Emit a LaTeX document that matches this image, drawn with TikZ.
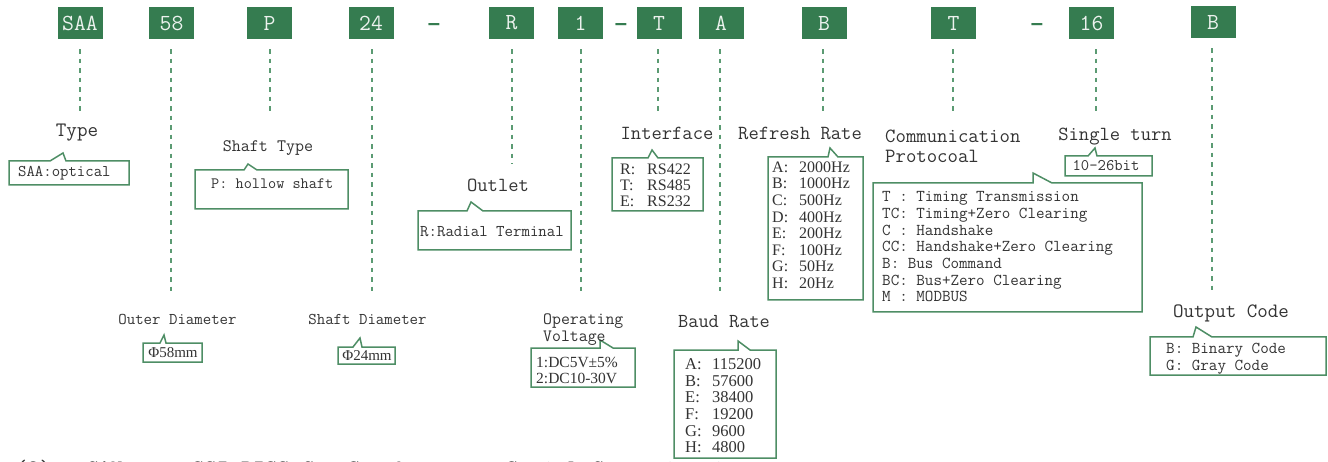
\documentclass[tikz,border=0pt]{standalone}
\usepackage{fontspec}
\setmainfont{Liberation Serif}
\newcommand{\lmono}{\ttfamily}
\newfontfamily\lser{Liberation Serif}
\newfontfamily\lsans{Liberation Sans}
\definecolor{codegreen}{HTML}{357C50}
\definecolor{boxtext}{HTML}{ECF2EE}
\definecolor{leadgreen}{HTML}{5B9B73}
\definecolor{cbgreen}{HTML}{4E8E65}
\definecolor{lbltext}{HTML}{333333}
\newcommand{\callbox}[8]{\draw[cb] (#1,#2) -- (#5,#2) -- (#6,#7) -- (#8,#2) -- (#3,#2) -- (#3,#4) -- (#1,#4) -- cycle;}
\newcommand{\fsz}[2]{\fontsize{#1}{#2}\selectfont}
\newcommand{\lt}[1]{\makebox[27pt][l]{#1}}
\begin{document}
\begin{tikzpicture}[x=1pt,y=-1pt,
  code/.style={fill=codegreen, text=boxtext, minimum width=45pt, minimum height=32pt, inner sep=0pt, font=\lmono\fsz{23}{23}},
  lead/.style={draw=leadgreen, line width=2pt, dash pattern=on 4.5pt off 5pt},
  cb/.style={draw=cbgreen, line width=1.5pt, fill=white, line join=miter},
  lbl/.style={text=lbltext, inner sep=0pt},
  sep/.style={text=codegreen, inner sep=0pt, font=\lsans\bfseries\fsz{22}{22}}]
\useasboundingbox (0,0) rectangle (1328,462);
\clip (0,0) rectangle (1328,462);

% code boxes
\node[code] (k1) at (80,23) {SAA};
\node[code] (k2) at (171.5,23) {58};
\node[code] (k3) at (269.5,23) {P};
\node[code] (k4) at (371,23) {24};
\node[sep] (d1) at (434,27) {–};
\node[code] (k5) at (511.5,23) {R};
\node[code] (k6) at (580.5,23) {1};
\node[sep] (d2) at (621,27) {–};
\node[code] (k7) at (659,23) {T};
\node[code] (k8) at (721,23) {A};
\node[code] (k9) at (824,23) {B};
\node[code] (k10) at (953.5,23) {T};
\node[sep] (d3) at (1037,27) {–};
\node[code] (k11) at (1091.5,23) {16};
\node[code] (k12) at (1213,22) {B};

% lead line ends
\coordinate (e1) at (80,113);
\coordinate (e2) at (171,295);
\coordinate (e3) at (270,113);
\coordinate (e4) at (372,295);
\coordinate (e5) at (512,164);
\coordinate (e6) at (581,295);
\coordinate (e7) at (658,113);
\coordinate (e8) at (720,295);
\coordinate (e9) at (823,113);
\coordinate (e10) at (953,113);
\coordinate (e11) at (1096,113);
\coordinate (e12) at (1212,295);
\foreach \i in {1,...,12}{
  \draw[lead] (k\i.south -| e\i) ++(0,10) -- (e\i);
}

% callout boxes
\callbox{9}{161}{129}{185}{50}{63}{153}{66}
\callbox{195}{170}{348}{209}{244}{248}{164}{257}
\callbox{418}{211}{571}{250}{467}{471}{202}{483}
\callbox{612}{158}{703}{211}{648}{652}{150}{658}
\callbox{768}{157}{863}{300}{828}{830}{148}{838}
\callbox{873}{183}{1142}{312}{1033}{1033}{173}{1052}
\callbox{1065}{156}{1152}{176}{1088}{1095}{148}{1097}
\callbox{143}{343}{202}{362}{160}{164}{335}{166}
\callbox{338}{347}{395}{364}{353}{360}{338}{362}
\callbox{531}{348}{635}{387}{600}{600}{340}{613}
\callbox{674}{350}{776}{458}{738}{738}{341}{750}
\callbox{1150}{337}{1326}{375}{1193}{1196}{327}{1212}

% labels
\node[lbl, font=\lmono\fsz{20.5}{22}] (type) at (77,133) {Type};
\node[lbl, font=\lmono\fsz{17.5}{20}] (shaft) at (268,148) {Shaft Type};
\node[lbl, font=\lmono\fsz{20}{22}] (outlet) at (498,185) {Outlet};
\node[lbl, font=\lmono\fsz{20}{22}] (iface) at (667,133) {Interface};
\node[lbl, font=\lmono\fsz{20}{22}] (refresh) at (800,133) {Refresh Rate};
\node[lbl, font=\lmono\fsz{20.2}{20}, anchor=base west] (comm) at (885,143) {\begin{tabular}[t]{@{}l@{}}Communication\\Protocoal\end{tabular}};
\node[lbl, font=\lmono\fsz{20}{22}] (single) at (1115,137) {Single turn};
\node[lbl, font=\lmono\fsz{16.4}{18}] (outer) at (177.5,319) {Outer Diameter};
\node[lbl, font=\lmono\fsz{16.4}{18}] (shaftd) at (367.5,319) {Shaft Diameter};
\node[lbl, font=\lmono\fsz{17.3}{17}, anchor=base west] (volt) at (543,325) {\begin{tabular}[t]{@{}l@{}}Operating\\Voltage\end{tabular}};
\node[lbl, font=\lmono\fsz{19.8}{22}] (baud) at (724,322) {Baud Rate};
\node[lbl, font=\lmono\fsz{20.4}{22}] (outcode) at (1231,313) {Output Code};

% callout texts
\node[lbl, font=\lmono\fsz{16.3}{17}, anchor=west] (t1) at (18,173) {SAA:optical};
\node[lbl, font=\lmono\fsz{15.8}{17}, anchor=west] (t2) at (211,184) {P: hollow shaft};
\node[lbl, font=\lmono\fsz{16.4}{17}, anchor=west] (t3) at (420,232) {R:Radial Terminal};
\node[lbl, font=\lser\fsz{16}{16}, anchor=base west] (t4) at (620,174.3) {\begin{tabular}[t]{@{}l@{}}\lt{R:}RS422\\\lt{T:}RS485\\\lt{E:}RS232\end{tabular}};
\node[lbl, font=\lser\fsz{16}{16.6}, anchor=base west] (t5) at (772,172.3) {\begin{tabular}[t]{@{}l@{}}\lt{A:}2000Hz\\\lt{B:}1000Hz\\\lt{C:}500Hz\\\lt{D:}400Hz\\\lt{E:}200Hz\\\lt{F:}100Hz\\\lt{G:}50Hz\\\lt{H:}20Hz\end{tabular}};
\node[lbl, font=\lmono\fsz{16.6}{16.7}, anchor=base west] (t6) at (882,201.8) {\begin{tabular}[t]{@{}l@{}}T : Timing Transmission\\TC: Timing+Zero Clearing\\C : Handshake\\CC: Handshake+Zero Clearing\\B: Bus Command\\BC: Bus+Zero Clearing\\M : MODBUS\end{tabular}};
\node[lbl, font=\lmono\fsz{16.2}{17}] (t7) at (1106,166) {10-26bit};
\node[lbl, font=\lser\fsz{15}{17}] (t8) at (173,353) {Φ58mm};
\node[lbl, font=\lser\fsz{15}{17}] (t9) at (367,355.5) {Φ24mm};
\node[lbl, font=\lser\fsz{15.5}{16}, anchor=base west] (t10) at (536,367) {\begin{tabular}[t]{@{}l@{}}1:DC5V±5\%\\2:DC10-30V\end{tabular}};
\node[lbl, font=\lser\fsz{16.5}{16.7}, anchor=base west] (t11) at (685,369.5) {\begin{tabular}[t]{@{}l@{}}\lt{A:}115200\\\lt{B:}57600\\\lt{E:}38400\\\lt{F:}19200\\\lt{G:}9600\\\lt{H:}4800\end{tabular}};
\node[lbl, font=\lmono\fsz{16.6}{17}, anchor=base west] (t12) at (1166,353.7) {\begin{tabular}[t]{@{}l@{}}B: Binary Code\\G: Gray Code\end{tabular}};

% cut-off line at the bottom
\node[lbl, font=\lmono\fsz{23.6}{24}, anchor=base west] (b1) at (15,476) {(2)};
\node[lbl, font=\lmono\fsz{23.6}{24}, anchor=base west] (b2) at (86,476) {CAN};
\node[lbl, font=\lmono\fsz{23.6}{24}, anchor=base west] (b3) at (192,476) {SSI BISS-C};
\node[lbl, font=\lmono\fsz{23.6}{24}, anchor=base west] (b4) at (348,476) {Synchronous};
\node[lbl, font=\lmono\fsz{23.6}{24}, anchor=base west] (b5) at (506,476) {Serial Communication};
\end{tikzpicture}
\end{document}
